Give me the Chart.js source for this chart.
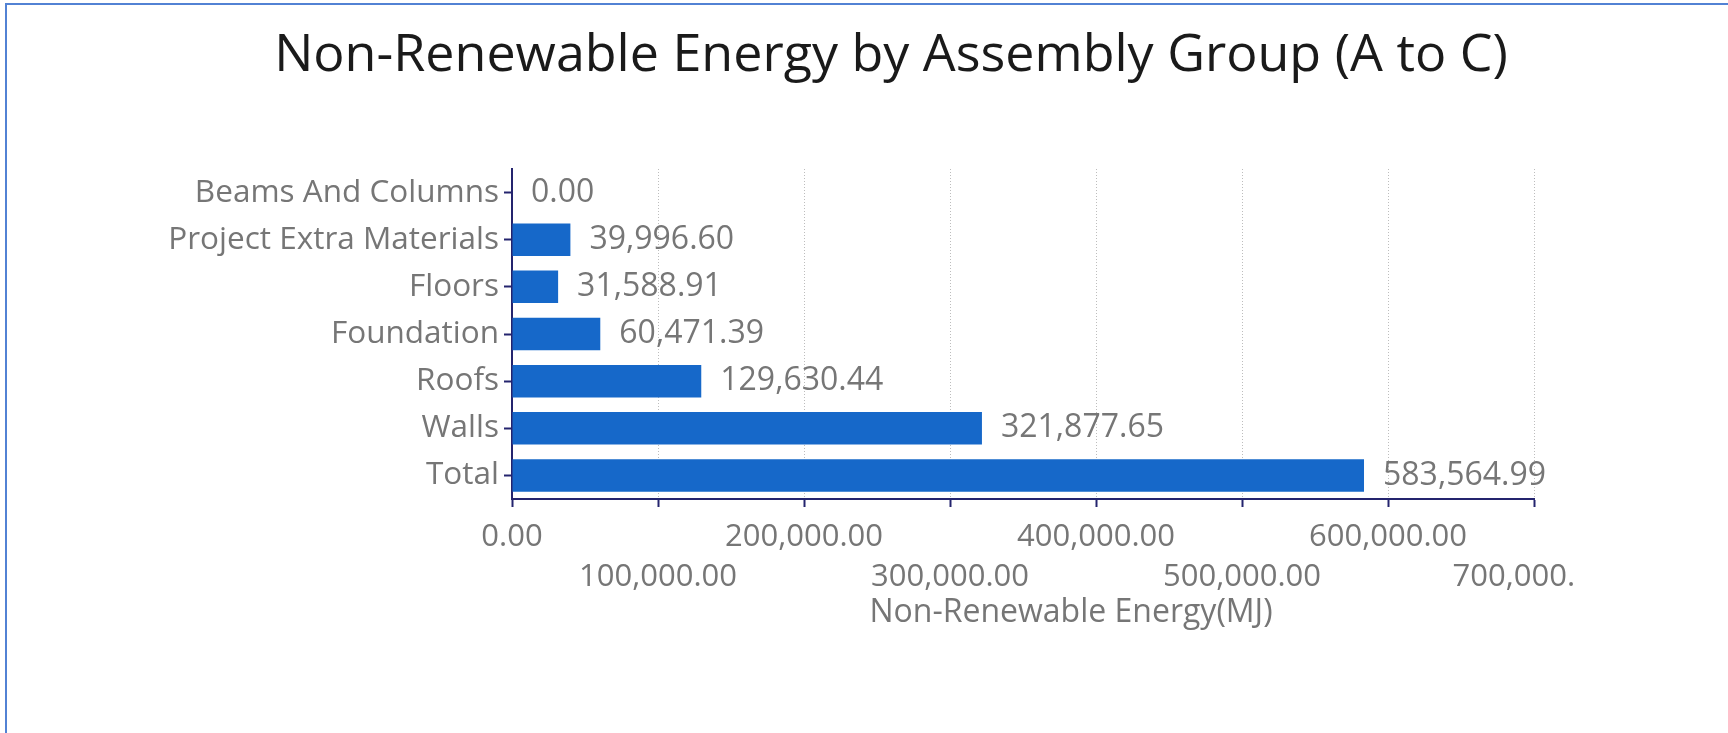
<!DOCTYPE html>
<html>
<head>
<meta charset="utf-8">
<title>Non-Renewable Energy by Assembly Group (A to C)</title>
<script src="https://cdn.jsdelivr.net/npm/chart.js@4.4.1/dist/chart.umd.min.js"></script>
<style>
    html, body { margin: 0; padding: 0; background: #fff; overflow: hidden; }
    #wrap { position: relative; width: 1728px; height: 733px; overflow: hidden; }
    #frame {
        position: absolute; left: 5px; top: 3px; right: -10px; bottom: -10px;
        border-left: 2px solid #5282d4; border-top: 2px solid #5282d4;
        pointer-events: none;
    }
    canvas { display: block; }
</style>
</head>
<body>
<div id="wrap">
    <canvas id="chart" width="1782" height="733"></canvas>
    <div id="frame"></div>
</div>
<script>
// 数据
const categories = ['Beams And Columns', 'Project Extra Materials', 'Floors', 'Foundation', 'Roofs', 'Walls', 'Total'];
const energyValues = [0.00, 39996.60, 31588.91, 60471.39, 129630.44, 321877.65, 583564.99];
const xTickValues = [0, 100000, 200000, 300000, 400000, 500000, 600000, 700000];
const chartTitle = 'Non-Renewable Energy by Assembly Group (A to C)';
const axisTitle = 'Non-Renewable Energy(MJ)';

const FONT = '"Open Sans", "Noto Sans", sans-serif';
const GREY = '#767676';
const NAVY = '#24246e';

const fmt = v => v.toLocaleString('en-US', { minimumFractionDigits: 2, maximumFractionDigits: 2 });

// 柱子右侧的数值标签
const valueLabels = {
    id: 'valueLabels',
    afterDatasetsDraw(chart) {
        const ctx = chart.ctx;
        const meta = chart.getDatasetMeta(0);
        ctx.save();
        ctx.font = `32px ${FONT}`;
        ctx.fillStyle = GREY;
        ctx.textAlign = 'left';
        ctx.textBaseline = 'middle';
        meta.data.forEach((bar, i) => {
            ctx.fillText(fmt(energyValues[i]), bar.x + 19, bar.y);
        });
        ctx.restore();
    }
};

// 标题和x轴标题（原图中位置不在轴中心，手动画）
const titles = {
    id: 'titles',
    afterDraw(chart) {
        const { ctx, chartArea } = chart;
        ctx.save();
        ctx.textAlign = 'center';
        ctx.textBaseline = 'alphabetic';
        ctx.fillStyle = '#1a1a1a';
        ctx.font = `52px ${FONT}`;
        ctx.fillText(chartTitle, chart.width / 2, 71);
        ctx.fillStyle = GREY;
        ctx.font = `32px ${FONT}`;
        ctx.fillText(axisTitle, chartArea.left + (chartArea.right - chartArea.left) * 0.547, chartArea.bottom + 123);
        ctx.restore();
    }
};

new Chart(document.getElementById('chart'), {
    type: 'bar',
    data: {
        labels: categories,
        datasets: [{
            data: energyValues,
            backgroundColor: '#1668c9',
            borderWidth: 0,
            barPercentage: 0.69,
            categoryPercentage: 1.0
        }]
    },
    options: {
        indexAxis: 'y',
        responsive: false,
        animation: false,
        devicePixelRatio: 1,
        layout: { padding: { left: 0, right: 248, top: 169, bottom: 0 } },
        plugins: {
            legend: { display: false },
            tooltip: { enabled: false },
            title: { display: false }
        },
        scales: {
            x: {
                min: 0,
                max: 700000,
                afterBuildTicks: axis => { axis.ticks = xTickValues.map(v => ({ value: v })); },
                afterFit: axis => { axis.height = 234; },
                grid: {
                    color: '#bdbdbd',
                    lineWidth: 1,
                    tickColor: NAVY,
                    tickWidth: 2,
                    tickLength: 8
                },
                border: { display: true, color: NAVY, width: 2, dash: [1, 2] },
                ticks: {
                    autoSkip: false,
                    maxRotation: 0,
                    minRotation: 0,
                    padding: 10,
                    color: GREY,
                    font: { family: FONT, size: 31, lineHeight: 1.3 },
                    callback: (value, index) => {
                        let text = fmt(value);
                        if (value === 700000) text = '700,000.     ';
                        return index % 2 === 0 ? text : ['', text];
                    }
                }
            },
            y: {
                afterFit: axis => { axis.width = 512; },
                grid: {
                    offset: false,
                    drawOnChartArea: false,
                    tickColor: NAVY,
                    tickWidth: 2,
                    tickLength: 8
                },
                border: { display: true, color: NAVY, width: 2 },
                ticks: {
                    padding: 5,
                    color: GREY,
                    font: { family: FONT, size: 31.5 }
                }
            }
        }
    },
    plugins: [valueLabels, titles]
});
</script>
</body>
</html>
